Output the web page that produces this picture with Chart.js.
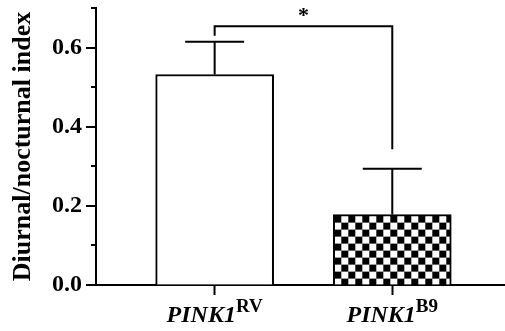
<!DOCTYPE html>
<html>
<head>
<meta charset="utf-8">
<script src="https://cdn.jsdelivr.net/npm/chart.js@4"></script>
<style>
html, body { margin: 0; padding: 0; background: #fff; }
</style>
</head>
<body>
<canvas id="chart" width="505" height="331"></canvas>
<script>
// values
const genotypes = ['PINK1', 'PINK1'];
const alleles = ['RV', 'B9'];
const means = [0.532, 0.178];
const errors = [0.083, 0.116];
const yTicks = [0, 0.1, 0.2, 0.3, 0.4, 0.5, 0.6, 0.7];
const sigPair = [0, 1];
const sigLevel = 0.654;
const sigLegs = [0.630, 0.343];
const sigText = '*';

const serif = '"Liberation Serif", "Times New Roman", serif';

// checkerboard fill for the second bar
const sq = 7;
const tile = document.createElement('canvas');
tile.width = sq * 2;
tile.height = sq * 2;
const tctx = tile.getContext('2d');
tctx.fillStyle = '#fff';
tctx.fillRect(0, 0, sq * 2, sq * 2);
tctx.fillStyle = '#000';
tctx.fillRect(0, 0, sq, sq);
tctx.fillRect(sq, sq, sq, sq);
const ctx = document.getElementById('chart').getContext('2d');
const checker = ctx.createPattern(tile, 'repeat');

const extras =
{
    id: 'extras',
    beforeDatasetsDraw(chart)
    {
        // line the pattern up with the bar corner
        const bar = chart.getDatasetMeta(0).data[1];
        checker.setTransform(new DOMMatrix().translate(bar.x - bar.width / 2 + 1, bar.y + 1));
    },
    afterDatasetsDraw(chart)
    {
        const c = chart.ctx;
        const xs = chart.scales.x;
        const ys = chart.scales.y;
        const area = chart.chartArea;

        c.save();
        c.strokeStyle = '#000';
        c.lineWidth = 2;
        c.lineCap = 'butt';

        // y tick marks, long on labelled values
        yTicks.forEach((v, i) =>
        {
            const py = Math.round(ys.getPixelForValue(v));
            const len = i % 2 === 0 ? 10 : 5;
            c.beginPath();
            c.moveTo(area.left, py);
            c.lineTo(area.left - len, py);
            c.stroke();
        });

        // error bars (upper half only)
        means.forEach((m, i) =>
        {
            const cx = xs.getPixelForValue(i + 1);
            const top = ys.getPixelForValue(m + errors[i]);
            const base = ys.getPixelForValue(m);
            c.beginPath();
            c.moveTo(cx, base);
            c.lineTo(cx, top);
            c.moveTo(cx - 29.5, top);
            c.lineTo(cx + 29.5, top);
            c.stroke();
        });

        // significance bracket
        const x1 = xs.getPixelForValue(sigPair[0] + 1);
        const x2 = xs.getPixelForValue(sigPair[1] + 1);
        const yb = ys.getPixelForValue(sigLevel);
        c.beginPath();
        c.moveTo(x1, ys.getPixelForValue(sigLegs[0]));
        c.lineTo(x1, yb);
        c.lineTo(x2, yb);
        c.lineTo(x2, ys.getPixelForValue(sigLegs[1]));
        c.stroke();

        c.fillStyle = '#000';
        c.font = 'bold 22px ' + serif;
        c.textAlign = 'center';
        c.textBaseline = 'alphabetic';
        c.fillText(sigText, (x1 + x2) / 2, yb - 4);

        // x labels with superscripts
        genotypes.forEach((g, i) =>
        {
            const cx = xs.getPixelForValue(i + 1);
            c.font = 'italic bold 24px ' + serif;
            const w1 = c.measureText(g).width;
            c.font = 'bold 19px ' + serif;
            const w2 = c.measureText(alleles[i]).width;
            const start = cx - (w1 + w2) / 2;
            c.textAlign = 'left';
            c.font = 'italic bold 24px ' + serif;
            c.fillText(g, start, area.bottom + 37);
            c.font = 'bold 19px ' + serif;
            c.fillText(alleles[i], start + w1, area.bottom + 26.5);
        });

        c.restore();
    }
};

new Chart(ctx,
{
    type: 'bar',
    data:
    {
        datasets:
        [
            {
                data: means.map((m, i) => ({ x: i + 1, y: m })),
                backgroundColor: ['#fff', checker],
                borderColor: '#000',
                borderWidth: 2,
                barThickness: 118
            }
        ]
    },
    options:
    {
        responsive: false,
        animation: false,
        devicePixelRatio: 1,
        layout: { padding: { top: 8, right: 1, left: 0, bottom: 0 } },
        plugins: { legend: { display: false }, tooltip: { enabled: false } },
        scales:
        {
            x:
            {
                type: 'linear',
                offset: false,
                min: 0.332,
                max: 2.629,
                afterBuildTicks: (scale) => { scale.ticks = [{ value: 1 }, { value: 2 }]; },
                afterFit: (scale) => { scale.height = 46; scale.paddingLeft = 0; scale.paddingRight = 0; },
                ticks: { display: false },
                grid: { offset: false, drawOnChartArea: false, drawTicks: true, tickLength: 10, tickColor: '#000', tickWidth: 2 },
                border: { color: '#000', width: 2 }
            },
            y:
            {
                min: 0,
                max: 0.7,
                afterBuildTicks: (scale) => { scale.ticks = yTicks.map((v) => ({ value: v })); },
                afterFit: (scale) => { scale.width = 96; scale.paddingTop = 0; scale.paddingBottom = 0; },
                ticks:
                {
                    color: '#000',
                    padding: 4,
                    font: { family: serif, size: 24, weight: 'bold' },
                    callback: (v, i) => (i % 2 === 0 ? v.toFixed(1) : '')
                },
                grid: { drawOnChartArea: false, drawTicks: true, tickLength: 10, tickColor: 'rgba(0,0,0,0)' },
                border: { color: '#000', width: 2 },
                title:
                {
                    display: true,
                    text: 'Diurnal/nocturnal index',
                    color: '#000',
                    font: { family: serif, size: 26, weight: 'bold' },
                    padding: { top: 8, bottom: 0 }
                }
            }
        }
    },
    plugins: [extras]
});
</script>
</body>
</html>
